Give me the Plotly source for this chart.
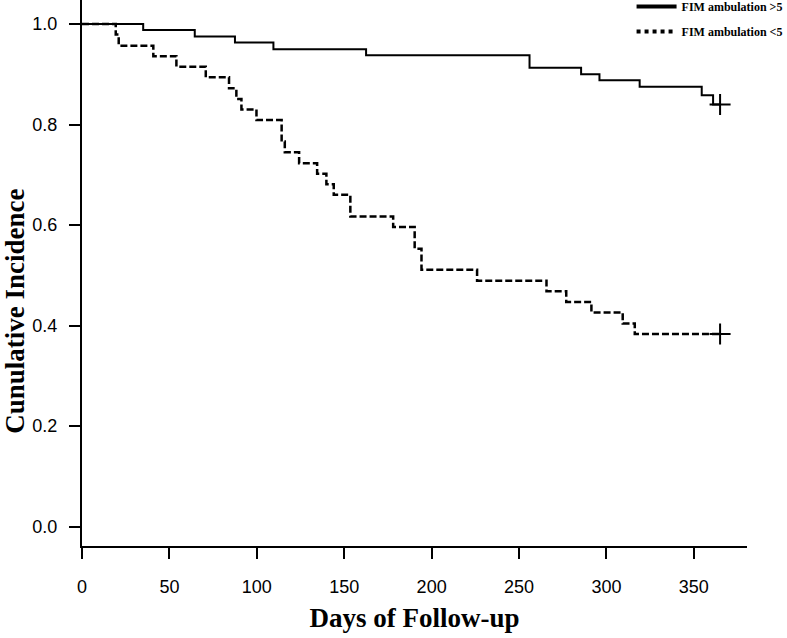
import plotly.graph_objects as go

# ---- data (days, cumulative value) ----
solid_name = "FIM ambulation >5"
solid_days = [0, 35, 64.5, 87.5, 109.5, 162.5, 256, 285.5, 296, 319, 354.5, 361, 365]
solid_vals = [1.0, 0.988, 0.975, 0.963, 0.950, 0.938, 0.913, 0.900, 0.888, 0.875, 0.858, 0.840, 0.840]

dashed_name = "FIM ambulation <5"
dashed_days = [0, 19.3, 21, 40.8, 54, 70.8, 84.1, 88.3, 91.2, 99.8, 114.2, 116, 124.2, 134.5,
               139.8, 144, 153.5, 178, 190.3, 194.2, 226, 265.7, 277, 291.4, 309.3, 316.2, 365]
dashed_vals = [1.0, 0.979, 0.957, 0.936, 0.915, 0.894, 0.872, 0.851, 0.830, 0.809, 0.766, 0.745,
               0.723, 0.702, 0.681, 0.660, 0.617, 0.596, 0.553, 0.511, 0.489, 0.468, 0.447, 0.426,
               0.404, 0.383, 0.383]

x_ticks = [0, 50, 100, 150, 200, 250, 300, 350]
y_ticks = [0.0, 0.2, 0.4, 0.6, 0.8, 1.0]
y_ticklabels = ["0.0", "0.2", "0.4", "0.6", "0.8", "1.0"]

x_title = "Days of Follow-up"
y_title = "Cunulative Incidence"

fig = go.Figure()

# curves
fig.add_trace(go.Scatter(x=solid_days, y=solid_vals, mode="lines", line_shape="hv",
                         line=dict(color="black", width=2), showlegend=False, hoverinfo="skip"))
fig.add_trace(go.Scatter(x=dashed_days, y=dashed_vals, mode="lines", line_shape="hv",
                         line=dict(color="black", width=2.5, dash="7px,3px"), showlegend=False,
                         hoverinfo="skip"))
# censor marks at end of follow-up
fig.add_trace(go.Scatter(x=[solid_days[-1], dashed_days[-1]], y=[solid_vals[-1], dashed_vals[-1]],
                         mode="markers",
                         marker=dict(symbol="cross-thin", size=15, line=dict(color="black", width=2)),
                         showlegend=False, hoverinfo="skip"))
# legend entries
fig.add_trace(go.Scatter(x=[None], y=[None], mode="lines", name=solid_name, legendgroup="a",
                         line=dict(color="black", width=4)))
fig.add_trace(go.Scatter(x=[None], y=[None], mode="lines", name=dashed_name, legendgroup="b",
                         line=dict(color="black", width=4, dash="4px,4px")))

tickfont = dict(family="Liberation Sans, Arial", size=18, color="black")
titlefont = dict(family="Liberation Serif, Times New Roman", size=27, color="black", weight="bold")

fig.update_layout(
    width=787, height=638,
    margin=dict(l=82, r=40, t=0, b=92, autoexpand=False),
    plot_bgcolor="white", paper_bgcolor="white",
    hovermode=False,
    legend=dict(xref="paper", yref="paper", x=1.061, xanchor="right", y=1.0147,
                yanchor="top", itemwidth=40,
                font=dict(family="Liberation Serif, Times New Roman", size=12, color="black",
                          weight="bold"),
                tracegroupgap=6, bgcolor="rgba(0,0,0,0)"),
    xaxis=dict(range=[0, 380.4], tickvals=x_ticks, showline=True, linecolor="black", linewidth=2,
               ticks="outside", ticklen=11, tickwidth=2, tickcolor="black", showgrid=False,
               zeroline=False, tickfont=tickfont, ticklabelstandoff=12,
               title=dict(text=x_title, font=titlefont, standoff=13)),
    yaxis=dict(range=[-0.0388, 1.0478], tickvals=y_ticks, ticktext=y_ticklabels, showline=True,
               linecolor="black", linewidth=2, ticks="outside", ticklen=11, tickwidth=2,
               tickcolor="black", showgrid=False, zeroline=False, tickfont=tickfont,
               ticklabelstandoff=8),
    annotations=[dict(text=y_title, textangle=-90, font=titlefont, showarrow=False,
                      xref="paper", yref="paper", x=-0.1, y=0.43,
                      xanchor="center", yanchor="middle")],
)

fig.write_html("out.html", config={"displayModeBar": False, "staticPlot": True},
               post_script="document.body.style.margin='0px';")
